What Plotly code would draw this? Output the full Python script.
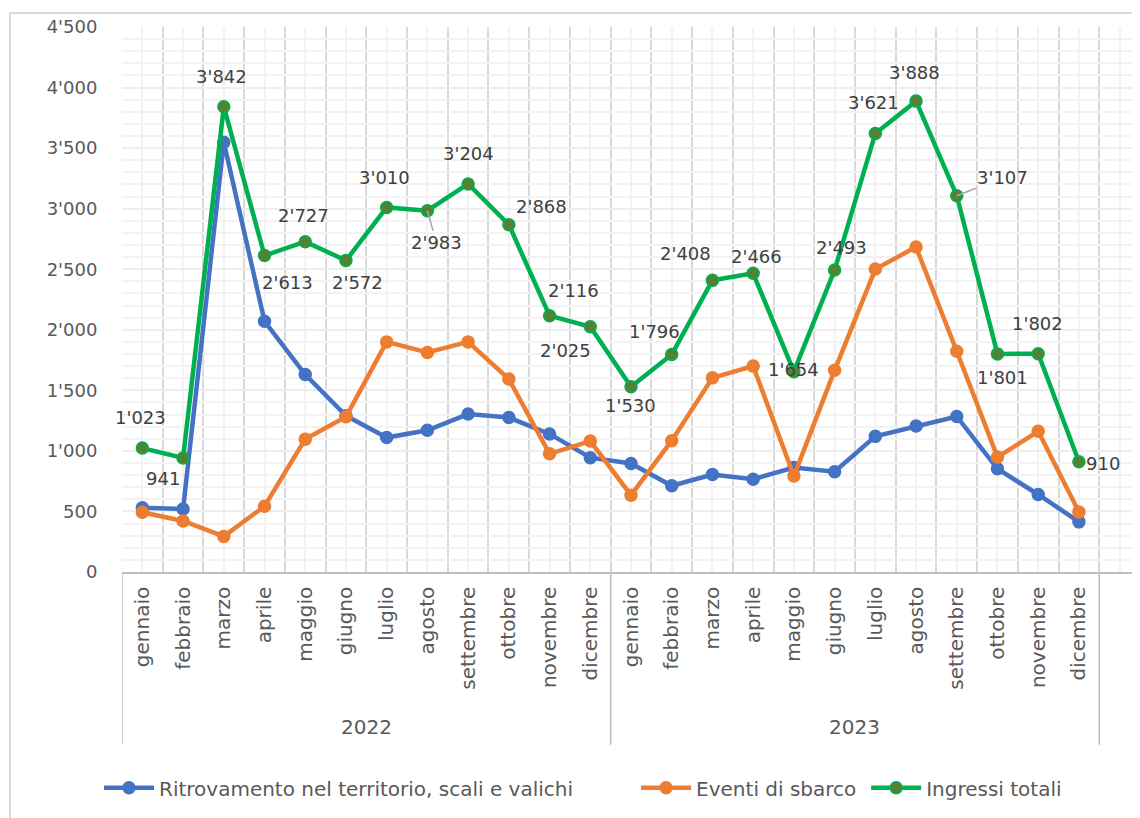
import plotly.graph_objects as go

months = ["gennaio", "febbraio", "marzo", "aprile", "maggio", "giugno",
          "luglio", "agosto", "settembre", "ottobre", "novembre", "dicembre"]
years = ["2022", "2023"]

ritrovamento = [530, 520, 3548, 2070, 1630, 1290, 1110, 1170, 1304, 1275, 1140, 944,
                896, 712, 805, 766, 862, 828, 1120, 1205, 1284, 852, 640, 414]
sbarco = [493, 421, 294, 543, 1097, 1282, 1900, 1813, 1900, 1593, 976, 1081,
          634, 1084, 1603, 1700, 792, 1665, 2501, 2683, 1823, 949, 1162, 496]
totali = [1023, 941, 3842, 2613, 2727, 2572, 3010, 2983, 3204, 2868, 2116, 2025,
          1530, 1796, 2408, 2466, 1654, 2493, 3621, 3888, 3107, 1801, 1802, 910]

# label offsets (px) relative to each point: (dx, dy up), None -> leader line
label_offsets = [(-2, 31), (-20, -20), (-2, 30), (23, -27), (-2, 26), (12, -22),
                 (-2, 30), None, (0, 30), (33, 18), (24, 25), (-25, -24),
                 (-1, -19), (-17, 23), (-27, 27), (3, 17), (0, 2), (7, 23),
                 (-2, 31), (-2, 29), None, (5, -24), (-1, 30), (24, -2)]
leader_offsets = {7: (9, 32), 20: (46, -18)}

FONT = "DejaVu Sans, Open Sans, sans-serif"
n = len(totali)
xs = list(range(n))
ticktext = months * len(years)

fig = go.Figure()
series = [
    ("Ritrovamento nel territorio, scali e valichi", ritrovamento, "#4472C4", "#4472C4", "legend"),
    ("Eventi di sbarco", sbarco, "#ED7D31", "#ED7D31", "legend2"),
    ("Ingressi totali", totali, "#00B050", "#548235", "legend3"),
]
for name, vals, lc, mc, lg in series:
    fig.add_trace(go.Scatter(
        x=xs, y=vals, name=name, mode="lines+markers",
        line=dict(color=lc, width=4.5),
        marker=dict(size=12, color=mc, line=dict(color=lc, width=1.5)),
        hoverinfo="skip", legend=lg,
    ))

def fmt(v):
    s = f"{v:,}"
    return s.replace(",", "'")

annotations = []
for i, v in enumerate(totali):
    off = label_offsets[i]
    if off is None:
        ax, ay = leader_offsets[i]
        annotations.append(dict(x=i, y=v, xref="x", yref="y", text=fmt(v),
                                showarrow=True, arrowhead=0, arrowwidth=1.5,
                                arrowcolor="#a6a6a6", ax=ax, ay=ay,
                                font=dict(family=FONT, size=18, color="#404040")))
    else:
        annotations.append(dict(x=i, y=v, xref="x", yref="y", text=fmt(v),
                                showarrow=False, xshift=off[0], yshift=off[1],
                                font=dict(family=FONT, size=18, color="#404040")))

# year labels
for k, yr in enumerate(years):
    annotations.append(dict(x=k * 12 + 5.5, y=-0.284, xref="x", yref="paper",
                            yanchor="middle", xanchor="center",
                            text=yr, showarrow=False,
                            font=dict(family=FONT, size=20, color="#595959")))

shapes = []
for xb in [-0.5, 11.5, 23.5, 24.5]:
    shapes.append(dict(type="line", xref="x", yref="paper", x0=xb, x1=xb,
                       y0=0, y1=-0.317, line=dict(color="#bfbfbf", width=1.5)))
# outer chart border
shapes.append(dict(type="rect", xref="paper", yref="paper",
                   x0=-0.110, x1=1.3, y0=-0.6, y1=1.0257,
                   line=dict(color="#d9d9d9", width=2), layer="below"))

def legend_cfg(x):
    return dict(orientation="h", x=x, xanchor="left", y=-0.396, yanchor="middle",
                font=dict(family=FONT, size=20, color="#595959"),
                itemwidth=50, bgcolor="rgba(0,0,0,0)")

fig.update_layout(
    width=1132, height=810, autosize=False,
    margin=dict(l=114, r=0, t=19, b=246),
    paper_bgcolor="white", plot_bgcolor="white",
    font=dict(family=FONT, color="#595959"),
    showlegend=True,
    legend=legend_cfg(-0.0226),
    legend2=legend_cfg(0.505),
    legend3=legend_cfg(0.731),
    annotations=annotations,
    shapes=shapes,
)

yt = list(range(0, 4501, 500))
fig.update_xaxes(
    range=[-0.5, n + 0.5],
    tickmode="array", tickvals=xs + [n], ticktext=ticktext + [""],
    tickangle=-90, tickfont=dict(family=FONT, size=20, color="#595959"),
    ticks="outside", ticklen=0, ticklabelstandoff=5,
    showgrid=True, gridcolor="#f2f2f2", gridwidth=1.5,
    showline=True, linecolor="#bfbfbf", linewidth=1.5,
    zeroline=False,
    minor=dict(tickmode="linear", tick0=-0.5, dtick=1, showgrid=True,
               gridcolor="#d9d9d9", gridwidth=1.5, ticks=""),
)
fig.update_yaxes(
    range=[0, 4500],
    tickmode="array", tickvals=yt, ticktext=[fmt(v) for v in yt],
    tickfont=dict(family=FONT, size=18, color="#595959"),
    ticks="outside", ticklen=0, ticklabelstandoff=20,
    showgrid=True, gridcolor="#eeeeee", gridwidth=1.5,
    showline=False, zeroline=False,
    minor=dict(tickmode="linear", tick0=0, dtick=100, showgrid=True,
               gridcolor="#f2f2f2", gridwidth=1.5, ticks=""),
)

fig.write_html("out.html")
